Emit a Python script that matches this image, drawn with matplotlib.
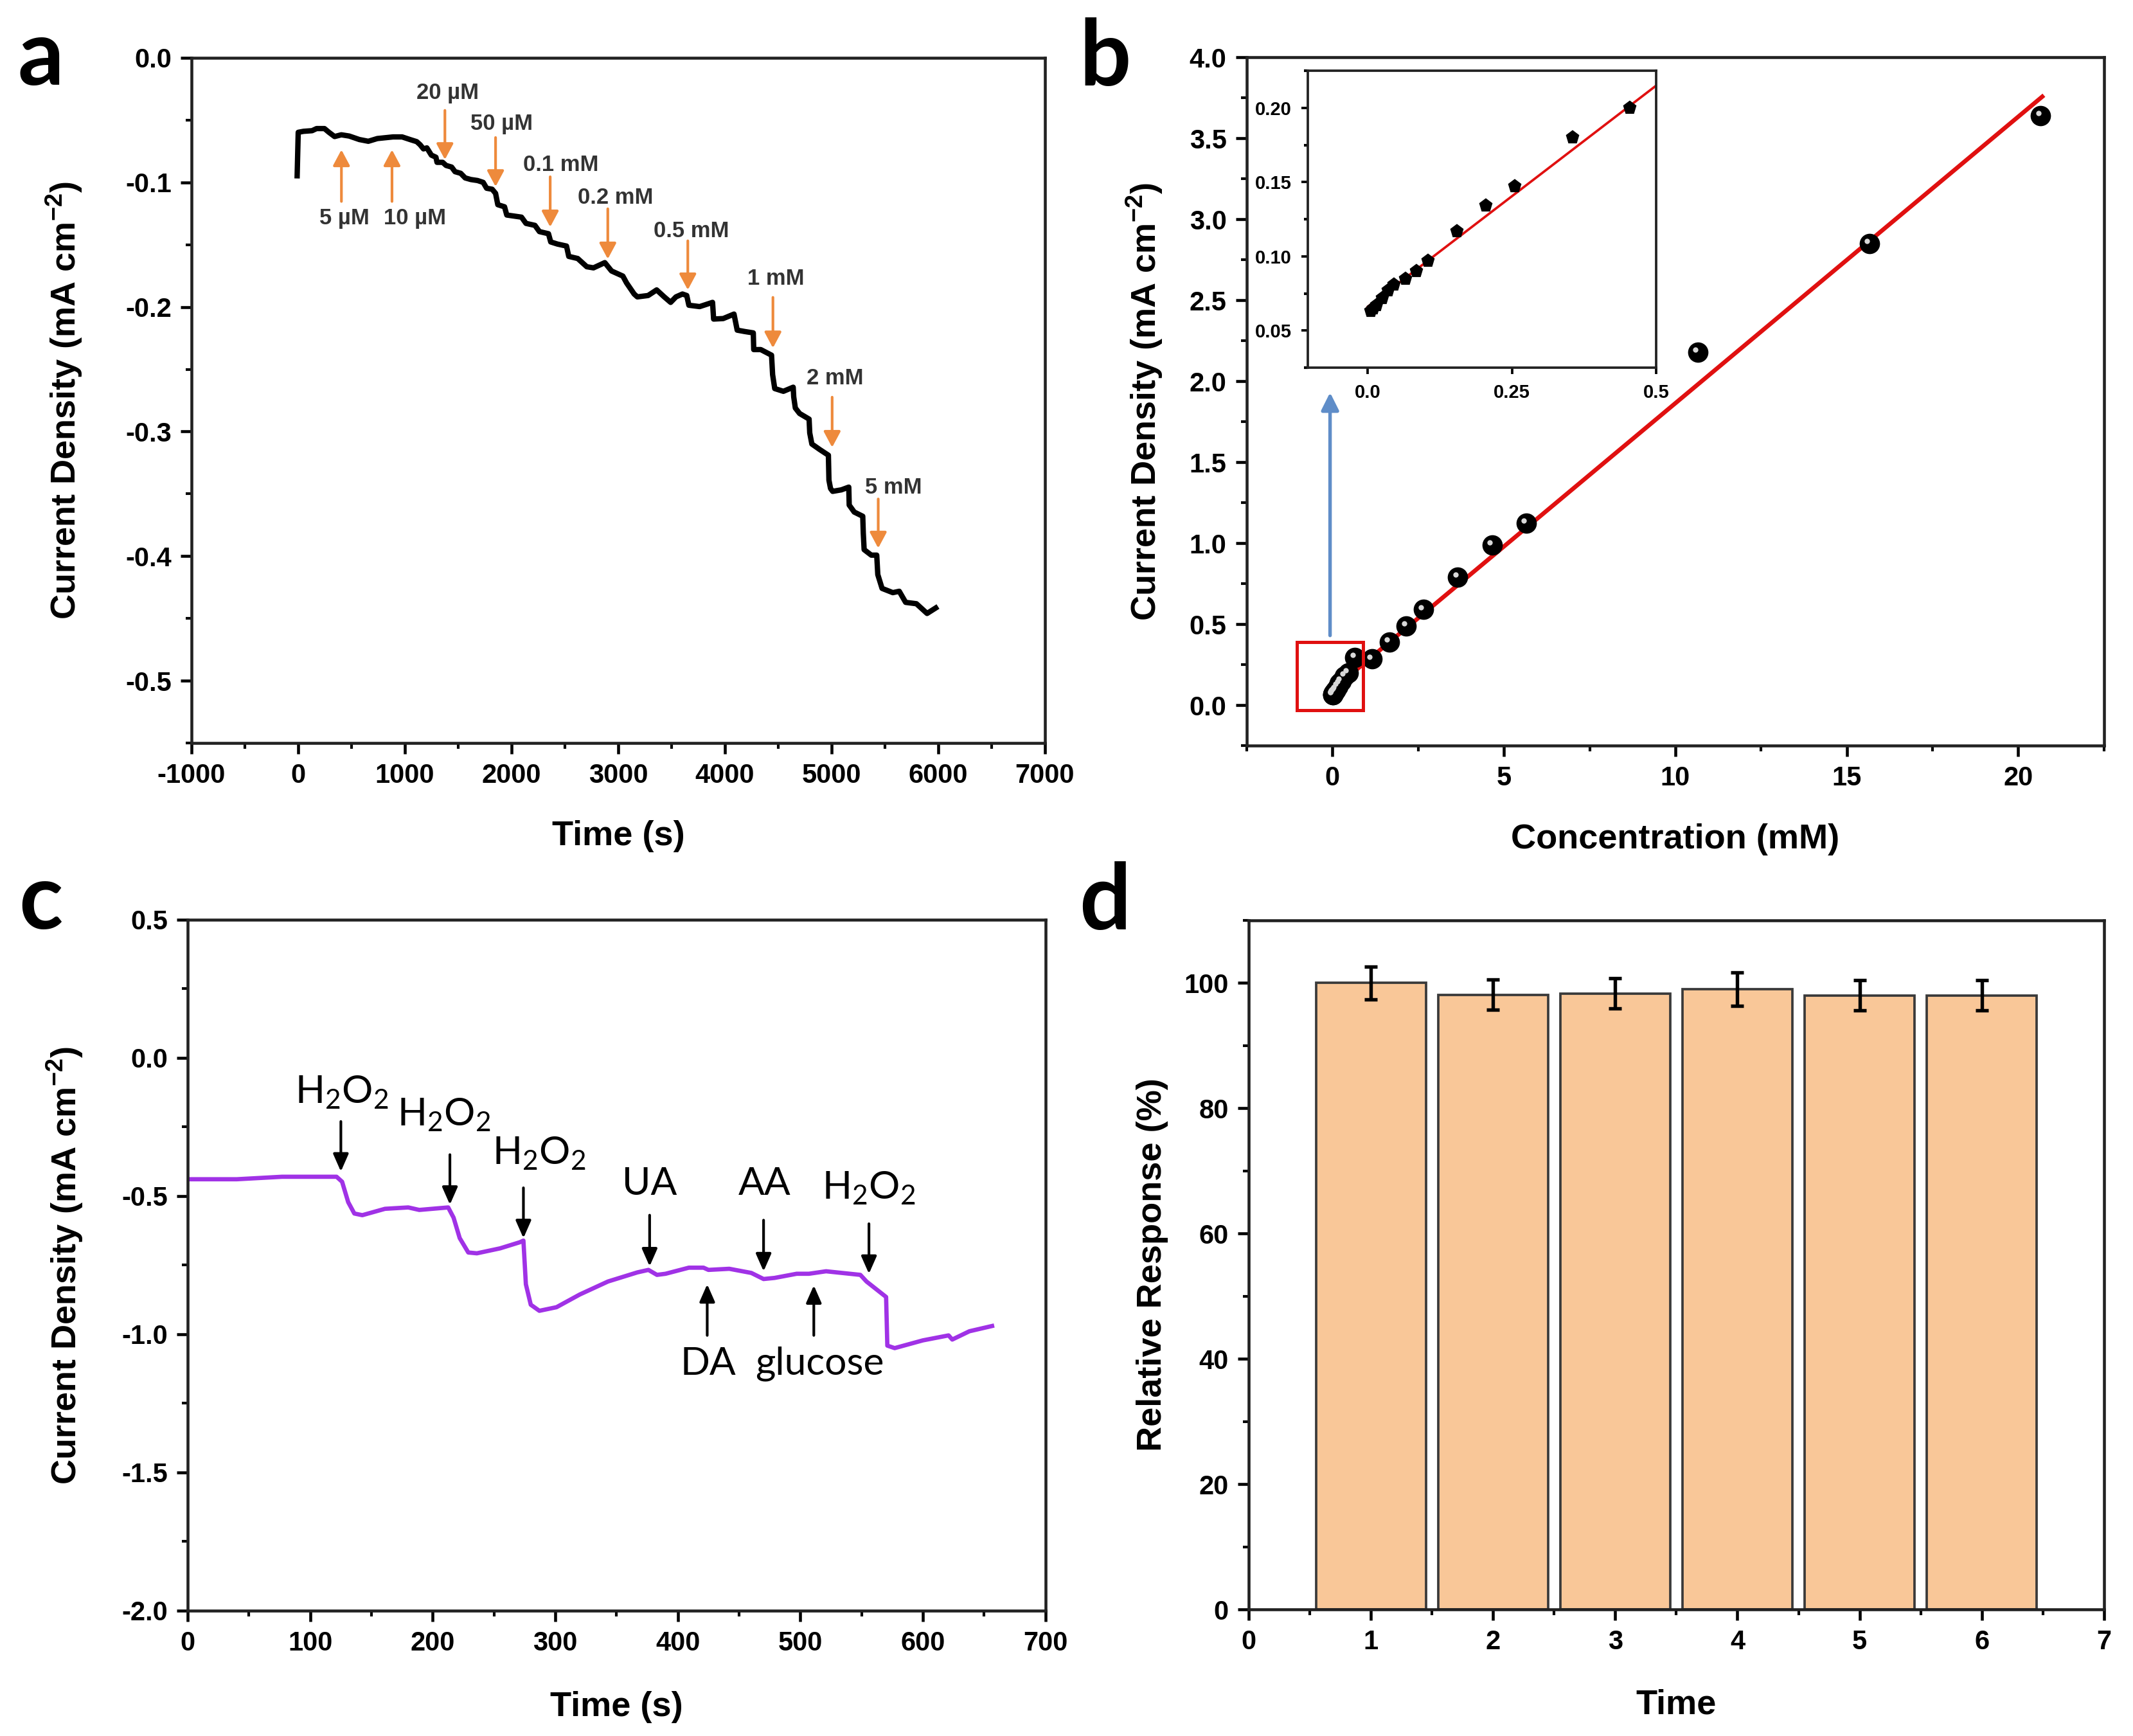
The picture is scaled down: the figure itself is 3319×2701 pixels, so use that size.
import numpy as np
import matplotlib
matplotlib.use("Agg")
import matplotlib.pyplot as plt
from matplotlib.patches import Rectangle
from matplotlib.ticker import MultipleLocator, FormatStrFormatter
from matplotlib.transforms import offset_copy

plt.rcParams.update({
    "font.family": "Liberation Sans", "font.weight": "bold", "font.size": 10,
    "axes.linewidth": 1.1, "axes.labelweight": "bold", "axes.labelsize": 13,
    "axes.unicode_minus": False,
    "xtick.direction": "out", "ytick.direction": "out",
    "xtick.major.size": 4, "ytick.major.size": 4,
    "xtick.minor.size": 2.2, "ytick.minor.size": 2.2,
    "xtick.major.width": 1.1, "ytick.major.width": 1.1,
    "xtick.minor.width": 1.0, "ytick.minor.width": 1.0,
    "xtick.labelsize": 10, "ytick.labelsize": 10,
})

# ---------------------------------------------------------------- data
# (a) amperometric response, time (s) / current density (mA cm-2)
t_a = [-10, 0, 50, 130, 172, 246, 288, 341, 404, 478, 573, 657, 742, 889,
       974, 1048, 1111, 1143, 1174, 1206, 1248, 1291, 1301, 1354, 1386, 1438,
       1470, 1523, 1565, 1618, 1681, 1734, 1766, 1818, 1850, 1871, 1934, 1955,
       2093, 2135, 2219, 2261, 2346, 2367, 2430, 2515, 2536, 2620, 2705, 2768,
       2874, 2937, 3043, 3078, 3149, 3179, 3280, 3360, 3431, 3491, 3541, 3602,
       3642, 3662, 3763, 3884, 3894, 3984, 4085, 4115, 4185, 4266, 4270, 4336,
       4437, 4447, 4467, 4548, 4640, 4645, 4660, 4700, 4789, 4795, 4815, 4890,
       4970, 4975, 4990, 5010, 5091, 5161, 5165, 5212, 5292, 5297, 5305, 5372,
       5423, 5433, 5473, 5574, 5634, 5694, 5795, 5895, 5976]
i_a = [-0.0947, -0.0598, -0.0590, -0.0585, -0.0568, -0.0568, -0.0598, -0.0632,
       -0.0618, -0.0628, -0.0656, -0.0670, -0.0648, -0.0635, -0.0635, -0.0656,
       -0.0673, -0.0698, -0.0731, -0.0723, -0.0781, -0.0798, -0.0839, -0.0839,
       -0.0864, -0.0877, -0.0914, -0.0927, -0.0964, -0.0977, -0.0985, -0.1000,
       -0.1047, -0.1055, -0.1088, -0.1179, -0.1196, -0.1262, -0.1279, -0.1329,
       -0.1345, -0.1395, -0.1412, -0.1478, -0.1495, -0.1511, -0.1594, -0.1611,
       -0.1677, -0.1686, -0.1644, -0.1711, -0.1752, -0.1807, -0.1896, -0.1919,
       -0.1908, -0.1863, -0.1919, -0.1963, -0.1919, -0.1896, -0.1908, -0.1986,
       -0.1997, -0.1963, -0.2097, -0.2093, -0.2057, -0.2186, -0.2197, -0.2208,
       -0.2342, -0.2342, -0.2387, -0.2543, -0.2655, -0.2677, -0.2644, -0.2722,
       -0.2811, -0.2855, -0.2900, -0.3011, -0.3100, -0.3145, -0.3190, -0.3390,
       -0.3457, -0.3480, -0.3468, -0.3446, -0.3590, -0.3646, -0.3680, -0.3814,
       -0.3948, -0.3992, -0.3992, -0.4148, -0.4259, -0.4293, -0.4282, -0.4371,
       -0.4382, -0.4460, -0.4416]

a_labels = ["5 µM", "10 µM", "20 µM", "50 µM", "0.1 mM", "0.2 mM",
            "0.5 mM", "1 mM", "2 mM", "5 mM"]
a_arrow_t = [405, 879, 1375, 1850, 2362, 2902, 3652, 4450, 5005, 5437]
a_arrow_tail = [-0.1153, -0.1153, -0.0422, -0.064, -0.0955, -0.1212,
                -0.1469, -0.1923, -0.2724, -0.3541]
a_arrow_tip = [-0.0738, -0.0738, -0.0817, -0.1034, -0.1358, -0.1615,
               -0.1863, -0.2329, -0.3127, -0.3936]
a_label_t = [431, 1095, 1402, 1904, 2460, 2972, 3684, 4477, 5032, 5583]
a_label_i = [-0.129, -0.129, -0.0284, -0.0529, -0.0857, -0.1121, -0.139,
             -0.1773, -0.2574, -0.345]

# (b) calibration, concentration (mM) / current density
conc_low = [0.005, 0.010, 0.015, 0.025, 0.035, 0.045, 0.065, 0.085, 0.105,
            0.155, 0.205, 0.255, 0.355, 0.455]
j_low = [0.063, 0.065, 0.067, 0.072, 0.077, 0.081, 0.085, 0.090, 0.097,
         0.117, 0.134, 0.147, 0.180, 0.200]
conc_high = [0.655, 1.155, 1.655, 2.155, 2.655, 3.655, 4.655, 5.655, 10.655,
             15.655, 20.655]
j_high = [0.295, 0.285, 0.390, 0.490, 0.590, 0.790, 0.990, 1.125, 2.180,
          2.850, 3.640]
fit_x = [0.0, 20.7]
fit_y = [0.095, 3.757]
fit_low_x = [0.0, 0.5]
fit_low_y = [0.066, 0.215]

# (c) interference test
t_c = [0, 40, 77, 121.5, 126, 131, 136, 142.5, 161, 180, 189, 212.6, 217,
       222, 229, 236, 255, 271, 274, 276, 280, 287, 301, 320, 343, 367, 376,
       383, 390, 409, 421, 425, 442, 460, 470, 479, 497, 507, 521, 549, 554,
       570, 571, 577, 600, 621, 624, 638, 656.5]
i_c = [-0.439, -0.439, -0.430, -0.430, -0.448, -0.522, -0.563, -0.569, -0.546,
       -0.541, -0.550, -0.541, -0.578, -0.652, -0.704, -0.707, -0.689, -0.667,
       -0.661, -0.819, -0.893, -0.915, -0.902, -0.856, -0.809, -0.776, -0.767,
       -0.785, -0.781, -0.759, -0.759, -0.767, -0.763, -0.778, -0.800, -0.796,
       -0.781, -0.781, -0.772, -0.785, -0.809, -0.865, -1.041, -1.050, -1.022,
       -1.004, -1.019, -0.989, -0.970]

H2O2 = "H$_\\mathregular{2}$O$_\\mathregular{2}$"
c_down_labels = [H2O2, H2O2, H2O2, "UA", "AA", H2O2]
c_down_t = [125, 214, 274, 377, 470, 556]
c_down_tail = [-0.23, -0.35, -0.47, -0.569, -0.587, -0.60]
c_down_tip = [-0.411, -0.531, -0.652, -0.754, -0.772, -0.781]
c_down_label_t = [126, 209, 287, 377, 471, 556]
c_down_label_i = [-0.124, -0.207, -0.346, -0.457, -0.457, -0.470]
c_up_labels = ["DA", "glucose"]
c_up_t = [424, 511]
c_up_tail = [-1.004, -1.004]
c_up_tip = [-0.819, -0.823]
c_up_label_t = [425, 516]
c_up_label_i = [-1.106, -1.106]

# (d) stability
runs = [1, 2, 3, 4, 5, 6]
response = [100.0, 98.1, 98.3, 99.0, 98.0, 98.0]
response_err = [2.6, 2.4, 2.4, 2.7, 2.4, 2.4]

ORANGE = "#EE8A3C"
PURPLE = "#A032E6"
BAR = "#F9C798"
YLAB = "Current Density (mA cm$^\\mathregular{-2}$)"

fig = plt.figure(figsize=(3319 / 300, 2701 / 300), dpi=300)


def frame(ax):
    ax.tick_params(which="both", top=False, right=False)
    for s in ax.spines.values():
        s.set_color("#222222")


def panel_letter(x, y, s):
    fig.text(x, y, s, fontsize=34, fontweight="bold", family="Lato",
             ha="center", va="center")


# ---------------------------------------------------------------- a
ax = fig.add_axes([0.0898, 0.572, 0.4001, 0.3947])
frame(ax)
ax.plot(t_a, i_a, color="black", lw=2.0)
for t, tail, tip, lab, lt, li in zip(a_arrow_t, a_arrow_tail, a_arrow_tip,
                                     a_labels, a_label_t, a_label_i):
    ax.annotate("", xy=(t, tip), xytext=(t, tail),
                arrowprops=dict(arrowstyle="-|>,head_length=0.45,head_width=0.24",
                                color=ORANGE, lw=1.0, mutation_scale=11,
                                shrinkA=0, shrinkB=0))
    ax.text(lt, li, lab, fontsize=8.3, fontweight="bold", color="#333333",
            ha="center", va="center")
ax.set_xlim(-1000, 7000)
ax.set_ylim(-0.55, 0.0)
ax.xaxis.set_major_locator(MultipleLocator(1000))
ax.xaxis.set_minor_locator(MultipleLocator(500))
ax.yaxis.set_major_locator(MultipleLocator(0.1))
ax.yaxis.set_minor_locator(MultipleLocator(0.05))
ax.yaxis.set_major_formatter(FormatStrFormatter("%.1f"))
ax.set_xlabel("Time (s)")
ax.set_ylabel(YLAB)
ax.xaxis.set_label_coords(0.5, -0.113)
ax.yaxis.set_label_coords(-0.126, 0.5)
panel_letter(0.019, 0.966, "a")

# ---------------------------------------------------------------- b
ax = fig.add_axes([0.5845, 0.5705, 0.4019, 0.3965])
frame(ax)
ax.plot(fit_x, fit_y, color="#E01010", lw=1.6, zorder=2)
cx = conc_low + conc_high
cy = j_low + j_high
ax.plot(cx, cy, "o", ms=6.6, color="black", mec="black", zorder=3)
hl = offset_copy(ax.transData, fig=fig, x=-0.9, y=0.9, units="points")
ax.plot(cx, cy, "o", ms=2.0, color="#d8d8d8", mec="none", zorder=4,
        transform=hl)
ax.add_patch(Rectangle((-1.04, -0.03), 1.93, 0.42, fill=False,
                       ec="#E01010", lw=1.2, zorder=5))
ax.annotate("", xy=(-0.07, 1.93), xytext=(-0.07, 0.43),
            arrowprops=dict(arrowstyle="-|>,head_length=0.5,head_width=0.25",
                            color="#5F8DC8", lw=1.3, mutation_scale=11,
                            shrinkA=0, shrinkB=0))
ax.set_xlim(-2.5, 22.5)
ax.set_ylim(-0.25, 4.0)
ax.xaxis.set_major_locator(MultipleLocator(5))
ax.xaxis.set_minor_locator(MultipleLocator(2.5))
ax.yaxis.set_major_locator(MultipleLocator(0.5))
ax.yaxis.set_minor_locator(MultipleLocator(0.25))
ax.yaxis.set_major_formatter(FormatStrFormatter("%.1f"))
ax.set_xlabel("Concentration (mM)")
ax.set_ylabel(YLAB)
ax.xaxis.set_label_coords(0.5, -0.113)
ax.yaxis.set_label_coords(-0.096, 0.5)
panel_letter(0.518, 0.966, "b")

# inset
ins = fig.add_axes([0.6131, 0.7882, 0.1633, 0.171])
frame(ins)
ins.plot(fit_low_x, fit_low_y, color="#E01010", lw=0.9, zorder=2)
ins.plot(conc_low, j_low, "p", ms=4.2, color="black", zorder=3)
ins.set_xlim(-0.104, 0.5)
ins.set_ylim(0.025, 0.225)
ins.set_xticks([0.0, 0.25, 0.5])
ins.set_xticklabels(["0.0", "0.25", "0.5"])
ins.yaxis.set_major_locator(MultipleLocator(0.05))
ins.yaxis.set_minor_locator(MultipleLocator(0.025))
ins.yaxis.set_major_formatter(FormatStrFormatter("%.2f"))
ins.tick_params(labelsize=7, length=2.5, width=0.9)
ins.tick_params(which="minor", length=1.5)
for s in ins.spines.values():
    s.set_linewidth(0.9)

# ---------------------------------------------------------------- c
ax = fig.add_axes([0.088, 0.0722, 0.4021, 0.398])
frame(ax)
ax.plot(t_c, i_c, color=PURPLE, lw=1.6)
arrow_k = dict(arrowstyle="-|>,head_length=0.5,head_width=0.22",
               color="black", lw=1.0, mutation_scale=11, shrinkA=0, shrinkB=0)
for lab, t, tail, tip, lt, li in zip(c_down_labels, c_down_t, c_down_tail,
                                     c_down_tip, c_down_label_t, c_down_label_i):
    ax.annotate("", xy=(t, tip), xytext=(t, tail), arrowprops=arrow_k)
    ax.text(lt, li, lab, fontsize=14.5, family="Lato", fontweight="normal",
            ha="center", va="center")
for lab, t, tail, tip, lt, li in zip(c_up_labels, c_up_t, c_up_tail,
                                     c_up_tip, c_up_label_t, c_up_label_i):
    ax.annotate("", xy=(t, tip), xytext=(t, tail), arrowprops=arrow_k)
    ax.text(lt, li, lab, fontsize=14.5, family="Lato", fontweight="normal",
            ha="center", va="center")
ax.set_xlim(0, 700)
ax.set_ylim(-2.0, 0.5)
ax.xaxis.set_major_locator(MultipleLocator(100))
ax.xaxis.set_minor_locator(MultipleLocator(50))
ax.yaxis.set_major_locator(MultipleLocator(0.5))
ax.yaxis.set_minor_locator(MultipleLocator(0.25))
ax.yaxis.set_major_formatter(FormatStrFormatter("%.1f"))
ax.set_xlabel("Time (s)")
ax.set_ylabel(YLAB)
ax.xaxis.set_label_coords(0.5, -0.116)
ax.yaxis.set_label_coords(-0.12, 0.5)
panel_letter(0.019, 0.480, "c")

# ---------------------------------------------------------------- d
ax = fig.add_axes([0.5854, 0.0729, 0.401, 0.397])
frame(ax)
ax.bar(runs, response, 0.9, color=BAR, edgecolor="#3a3a3a", lw=0.9,
       yerr=response_err, capsize=2.5,
       error_kw=dict(lw=1.3, capthick=1.3, ecolor="black"))
ax.set_xlim(0, 7)
ax.set_ylim(0, 110)
ax.xaxis.set_major_locator(MultipleLocator(1))
ax.xaxis.set_minor_locator(MultipleLocator(0.5))
ax.yaxis.set_major_locator(MultipleLocator(20))
ax.yaxis.set_minor_locator(MultipleLocator(10))
ax.set_xlabel("Time")
ax.set_ylabel("Relative Response (%)")
ax.xaxis.set_label_coords(0.5, -0.115)
ax.yaxis.set_label_coords(-0.094, 0.5)
panel_letter(0.518, 0.480, "d")

fig.savefig("out.png", dpi=300)
